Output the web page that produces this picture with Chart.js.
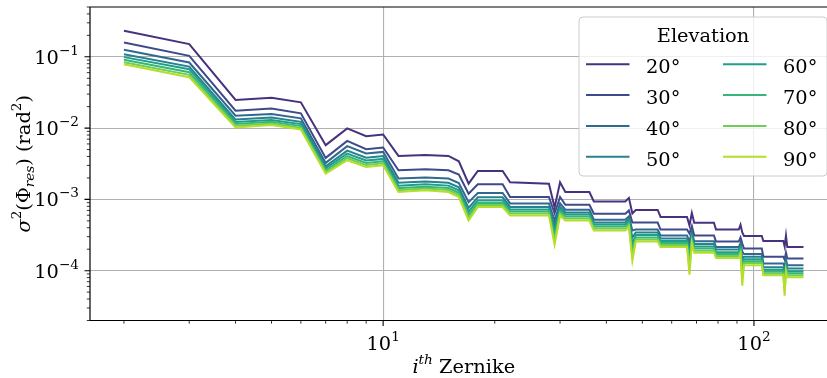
<!DOCTYPE html>
<html lang="en">

<head>
  <meta charset="UTF-8">
  <script src="https://cdn.jsdelivr.net/npm/chart.js"></script>
  <title>Variância residual por modo de Zernike</title>
  <style>
    body { margin: 0; overflow: hidden; background: white; }
    canvas { display: block; }
  </style>
</head>

<body>
  <canvas id="grafico" width="840" height="378"></canvas>
</body>

</html>
<script>
  // modos de Zernike (pontos de quebra das curvas)
  const modos = [2, 3, 4, 5, 6, 7, 8, 9, 10, 11, 13, 15, 16, 17, 18, 21, 22, 28, 29, 30, 31, 36, 37, 45, 46, 47, 48, 55, 56, 66, 67, 68, 69, 78, 79, 91, 92, 93, 94, 105, 106, 120, 121, 122, 123, 136];

  const elevacoes = ['20°', '30°', '40°', '50°', '60°', '70°', '80°', '90°'];
  const cores = ['#46327e', '#3e4a89', '#31688e', '#26828e', '#1f9e89', '#35b779', '#6ece58', '#b5de2b'];

  // variância residual (rad²) por elevação
  const var20 = [0.232, 0.151, 0.0248, 0.0267, 0.0230, 0.00577, 0.00991, 0.00771, 0.00815, 0.00407, 0.00421, 0.00407, 0.00343, 0.00166, 0.00251, 0.00251, 0.00174, 0.00166, 0.000771, 0.00174, 0.00127, 0.00127, 0.000937, 0.000937, 0.00105, 0.000635, 0.000711, 0.000711, 0.000567, 0.000567, 0.000431, 0.000645, 0.000470, 0.000470, 0.000378, 0.000378, 0.000440, 0.000343, 0.000306, 0.000306, 0.000260, 0.000260, 0.000218, 0.000311, 0.000214, 0.000214];
  const var30 = [0.159, 0.1033, 0.01754, 0.0189, 0.0161, 0.00382, 0.00662, 0.00506, 0.00535, 0.00256, 0.00265, 0.00256, 0.00223, 0.00120, 0.00163, 0.00163, 0.00108, 0.00108, 0.000635, 0.00108, 0.000842, 0.000842, 0.000629, 0.000629, 0.000700, 0.000474, 0.000474, 0.000474, 0.000378, 0.000378, 0.000332, 0.000424, 0.000311, 0.000311, 0.000256, 0.000256, 0.000292, 0.000240, 0.000204, 0.000204, 0.000157, 0.000157, 0.000143, 0.000179, 0.000148, 0.000148];
  const var40 = [0.1256, 0.0832, 0.01490, 0.01575, 0.01370, 0.00325, 0.00558, 0.00440, 0.00464, 0.00196, 0.00202, 0.00196, 0.00170, 0.000916, 0.00123, 0.00123, 0.000879, 0.000879, 0.000506, 0.000879, 0.000716, 0.000716, 0.000518, 0.000518, 0.000576, 0.000366, 0.000378, 0.000378, 0.000311, 0.000311, 0.000256, 0.000349, 0.000259, 0.000259, 0.000214, 0.000214, 0.000244, 0.000185, 0.000171, 0.000171, 0.000126, 0.000126, 0.000114, 0.000143, 0.000119, 0.000119];
  const var50 = [0.109, 0.0730, 0.01318, 0.01406, 0.01223, 0.00292, 0.00484, 0.00384, 0.00405, 0.00171, 0.00178, 0.00171, 0.00148, 0.000759, 0.00107, 0.00107, 0.000784, 0.000784, 0.000417, 0.000784, 0.000656, 0.000656, 0.000474, 0.000474, 0.000531, 0.000292, 0.000343, 0.000343, 0.000282, 0.000282, 0.000204, 0.000316, 0.000236, 0.000236, 0.000198, 0.000198, 0.000225, 0.000148, 0.000157, 0.000157, 0.000112, 0.000112, 0.0000937, 0.000128, 0.000107, 0.000107];
  const var60 = [0.099, 0.0671, 0.01223, 0.01304, 0.01138, 0.00272, 0.00440, 0.00351, 0.00370, 0.00156, 0.00163, 0.00156, 0.00134, 0.000673, 0.000968, 0.000968, 0.000723, 0.000723, 0.000354, 0.000723, 0.000615, 0.000615, 0.000445, 0.000445, 0.000498, 0.000240, 0.000316, 0.000316, 0.000260, 0.000260, 0.000168, 0.000292, 0.000219, 0.000219, 0.000182, 0.000182, 0.000207, 0.000118, 0.000145, 0.000145, 0.000103, 0.000103, 0.0000771, 0.000118, 0.0000984, 0.0000984];
  const var70 = [0.0908, 0.0609, 0.01143, 0.01223, 0.01067, 0.00255, 0.00406, 0.00325, 0.00343, 0.00144, 0.00151, 0.00144, 0.00124, 0.000605, 0.000893, 0.000893, 0.000678, 0.000678, 0.000301, 0.000678, 0.000576, 0.000576, 0.000417, 0.000417, 0.000467, 0.000198, 0.000292, 0.000292, 0.000244, 0.000244, 0.000138, 0.000273, 0.000204, 0.000204, 0.000171, 0.000171, 0.000194, 0.0000968, 0.000136, 0.000136, 0.0000968, 0.0000968, 0.0000635, 0.000110, 0.0000922, 0.0000922];
  const var80 = [0.0842, 0.0558, 0.01081, 0.01157, 0.01010, 0.00242, 0.00378, 0.00303, 0.00321, 0.00135, 0.00142, 0.00135, 0.00115, 0.000552, 0.000832, 0.000832, 0.000635, 0.000635, 0.000265, 0.000635, 0.000540, 0.000540, 0.000391, 0.000391, 0.000438, 0.000163, 0.000273, 0.000273, 0.000229, 0.000229, 0.000110, 0.000256, 0.000191, 0.000191, 0.000160, 0.000160, 0.000182, 0.0000771, 0.000128, 0.000128, 0.0000907, 0.0000907, 0.0000523, 0.000103, 0.0000865, 0.0000865];
  const var90 = [0.0789, 0.0518, 0.01023, 0.01102, 0.00959, 0.00230, 0.00354, 0.00285, 0.00301, 0.00127, 0.00134, 0.00127, 0.00108, 0.000506, 0.000779, 0.000779, 0.000595, 0.000595, 0.000232, 0.000595, 0.000506, 0.000506, 0.000366, 0.000366, 0.000410, 0.000138, 0.000256, 0.000256, 0.000214, 0.000214, 0.0000879, 0.000240, 0.000179, 0.000179, 0.000150, 0.000150, 0.000171, 0.0000615, 0.000119, 0.000119, 0.0000865, 0.0000865, 0.0000445, 0.0000968, 0.0000810, 0.0000810];
  const series = [var20, var30, var40, var50, var60, var70, var80, var90];

  // ticks dos eixos
  const xMaiores = [10, 100];
  const xExpoentes = ['1', '2'];
  const xMenores = [2, 3, 4, 5, 6, 7, 8, 9, 20, 30, 40, 50, 60, 70, 80, 90];
  const yMaiores = [1e-4, 1e-3, 1e-2, 1e-1];
  const yExpoentes = ['−4', '−3', '−2', '−1'];
  const yMenores = [2e-5, 3e-5, 4e-5, 5e-5, 6e-5, 7e-5, 8e-5, 9e-5,
    2e-4, 3e-4, 4e-4, 5e-4, 6e-4, 7e-4, 8e-4, 9e-4,
    2e-3, 3e-3, 4e-3, 5e-3, 6e-3, 7e-3, 8e-3, 9e-3,
    2e-2, 3e-2, 4e-2, 5e-2, 6e-2, 7e-2, 8e-2, 9e-2,
    0.2, 0.3, 0.4, 0.5];

  const FONTE = '19.4px "DejaVu Serif"';
  const FONTE_IT = 'italic 19.4px "DejaVu Serif"';
  const FONTE_P = '13.6px "DejaVu Serif"';
  const FONTE_P_IT = 'italic 13.6px "DejaVu Serif"';

  // escreve pedaços de texto com fontes / deslocamentos diferentes
  function escreverPartes(c, partes, x, y, alinhamento) {
    let total = 0;
    partes.forEach(p => { c.font = p[1]; p.w = c.measureText(p[0]).width; total += p.w; });
    let cx = alinhamento === 'center' ? x - total / 2 : (alinhamento === 'right' ? x - total : x);
    c.textAlign = 'left';
    c.textBaseline = 'alphabetic';
    partes.forEach(p => { c.font = p[1]; c.fillText(p[0], cx, y + p[2]); cx += p.w; });
  }

  const eixosPlugin = {
    id: 'eixos',
    afterDraw(chart) {
      const c = chart.ctx;
      const a = chart.chartArea;
      const sx = chart.scales.x;
      const sy = chart.scales.y;
      c.save();

      // bordas
      c.strokeStyle = 'black';
      c.lineWidth = 1.2;
      c.beginPath();
      c.moveTo(a.left, a.top); c.lineTo(a.right, a.top);
      c.moveTo(a.left, a.top); c.lineTo(a.left, a.bottom);
      c.moveTo(a.left, a.bottom); c.lineTo(a.right, a.bottom);
      c.stroke();

      // marcas dos ticks
      const marca = (vals, tam, larg) => {
        c.lineWidth = larg;
        c.beginPath();
        vals.forEach(v => {
          const px = sx.getPixelForValue(v);
          c.moveTo(px, a.bottom); c.lineTo(px, a.bottom + tam);
        });
        c.stroke();
      };
      const marcaY = (vals, tam, larg) => {
        c.lineWidth = larg;
        c.beginPath();
        vals.forEach(v => {
          const py = sy.getPixelForValue(v);
          c.moveTo(a.left, py); c.lineTo(a.left - tam, py);
        });
        c.stroke();
      };
      marca(xMaiores, 5.5, 1.1);
      marca(xMenores, 3.2, 0.8);
      marcaY(yMaiores, 5.5, 1.1);
      marcaY(yMenores, 3.2, 0.8);

      // rótulos dos ticks
      c.fillStyle = 'black';
      xMaiores.forEach((v, i) => {
        escreverPartes(c, [['10', FONTE, 0], [xExpoentes[i], FONTE_P, -9]], sx.getPixelForValue(v), a.bottom + 29.5, 'center');
      });
      yMaiores.forEach((v, i) => {
        escreverPartes(c, [['10', FONTE, 0], [yExpoentes[i], FONTE_P, -9]], a.left - 11, sy.getPixelForValue(v) + 7, 'right');
      });

      // títulos dos eixos
      escreverPartes(c, [['i', FONTE_IT, 0], ['th', FONTE_P_IT, -9], [' Zernike', FONTE, 0]], (a.left + a.right) / 2, 373, 'center');
      c.save();
      c.translate(30, (a.top + a.bottom) / 2);
      c.rotate(-Math.PI / 2);
      escreverPartes(c, [['σ', FONTE_IT, 0], ['2', FONTE_P, -9], ['(Φ', FONTE, 0], ['res', FONTE_P_IT, 4],
        [')', FONTE, 0], [' (rad', FONTE, 0], ['2', FONTE_P, -9], [')', FONTE, 0]], 0, 0, 'center');
      c.restore();

      // legenda
      const lx = 579, ly = 17, lw = 248, lh = 159, r = 4;
      c.beginPath();
      c.moveTo(lx + r, ly);
      c.arcTo(lx + lw, ly, lx + lw, ly + lh, r);
      c.arcTo(lx + lw, ly + lh, lx, ly + lh, r);
      c.arcTo(lx, ly + lh, lx, ly, r);
      c.arcTo(lx, ly, lx + lw, ly, r);
      c.closePath();
      c.fillStyle = 'rgba(255,255,255,0.8)';
      c.fill();
      c.strokeStyle = '#cccccc';
      c.lineWidth = 1;
      c.stroke();

      c.fillStyle = 'black';
      escreverPartes(c, [['Elevation', FONTE, 0]], lx + lw / 2, 42, 'center');
      elevacoes.forEach((rotulo, i) => {
        const col = Math.floor(i / 4);
        const lin = i % 4;
        const x0 = col === 0 ? 586 : 723;
        const yy = 64.3 + lin * 30.8;
        c.strokeStyle = cores[i];
        c.lineWidth = 2;
        c.beginPath();
        c.moveTo(x0, yy); c.lineTo(x0 + 43.5, yy);
        c.stroke();
        c.fillStyle = 'black';
        escreverPartes(c, [[rotulo, FONTE, 0]], x0 + 60, yy + 9, 'left');
      });

      c.restore();
    }
  };

  const ctx = document.getElementById('grafico');

  new Chart(ctx, {
    type: 'line',
    data: {
      datasets: elevacoes.map((rotulo, i) => ({
        label: rotulo,
        data: modos.map((m, j) => ({ x: m, y: series[i][j] })),
        borderColor: cores[i],
        borderWidth: 2,
        pointRadius: 0,
        tension: 0,
        fill: false,
        order: elevacoes.length - 1 - i
      }))
    },
    options: {
      responsive: false,
      animation: false,
      layout: { padding: { left: 90, top: 7, right: 2.5, bottom: 57.5 } },
      plugins: { legend: { display: false }, tooltip: { enabled: false } },
      scales: {
        x: {
          type: 'logarithmic',
          min: 1.62,
          max: 168,
          ticks: { display: false },
          grid: { color: '#b0b0b0', lineWidth: 1.1, drawTicks: false },
          border: { display: false },
          afterBuildTicks: s => { s.ticks = xMaiores.map(v => ({ value: v })); }
        },
        y: {
          type: 'logarithmic',
          min: 2e-5,
          max: 0.5,
          ticks: { display: false },
          grid: { color: '#b0b0b0', lineWidth: 1.1, drawTicks: false },
          border: { display: false },
          afterBuildTicks: s => { s.ticks = yMaiores.map(v => ({ value: v })); }
        }
      }
    },
    plugins: [eixosPlugin]
  });
</script>
